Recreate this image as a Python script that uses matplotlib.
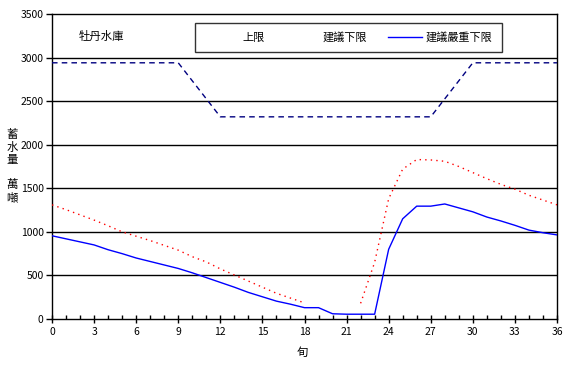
import numpy as np
import matplotlib.pyplot as plt
from matplotlib.lines import Line2D

plt.rcParams['font.family'] = ['Noto Sans CJK TC', 'DejaVu Sans']

# 旬 0..36
xun = np.arange(0, 37)

upper_x = [0, 9, 12, 27, 30, 36]
upper_y = [2940, 2940, 2320, 2320, 2940, 2940]

# 建議下限 (gap between 19 and 21)
lower = [1310, 1255, 1195, 1135, 1070, 1000, 950, 900, 845, 790,
         715, 655, 575, 505, 435, 365, 295, 240, 185, np.nan,
         np.nan, np.nan, 180, 650, 1380, 1720, 1830, 1825, 1810, 1750,
         1680, 1610, 1545, 1490, 1420, 1365, 1310]

# 建議嚴重下限
severe = [955, 920, 885, 850, 795, 750, 700, 660, 620, 580,
          530, 475, 420, 365, 305, 255, 205, 170, 130, 130,
          60, 55, 55, 55, 800, 1150, 1295, 1295, 1320, 1275,
          1230, 1170, 1125, 1075, 1020, 990, 965]

labels = ['上限', '建議下限', '建議嚴重下限']

fig = plt.figure(figsize=(5.67, 3.69), dpi=100)
ax = fig.add_axes([52 / 567, 50 / 369, 505 / 567, 305 / 369])

for yv in range(500, 3500, 500):
    ax.axhline(yv, color='black', lw=1, zorder=1)

ax.plot(upper_x, upper_y, color='#000080', lw=1, ls=(0, (4, 3)), zorder=3)
ax.plot(xun, lower, color='red', lw=1, ls=(0, (1, 3)), zorder=3)
ax.plot(xun, severe, color='blue', lw=1, zorder=4)

ax.set_xlim(0, 36)
ax.set_ylim(0, 3500)
ax.set_xticks(range(0, 37, 3))
ax.set_xticks(range(0, 37), minor=True)
ax.set_yticks(range(0, 3501, 500))
ax.tick_params(axis='x', which='major', direction='inout', length=6, width=1, labelsize=7.5, pad=3)
ax.tick_params(axis='x', which='minor', direction='in', length=3, width=1)
ax.tick_params(axis='y', which='major', direction='out', length=4, width=1, labelsize=7.5, pad=2)
for s in ax.spines.values():
    s.set_linewidth(1)

ax.text(27 / 505, 0.925, '牡丹水庫', transform=ax.transAxes, fontsize=8.2, va='center')
fig.text(12 / 567, 1 - 166 / 369, '蓄\n水\n量\n\n萬\n噸', fontsize=8.2, ha='center', va='center', linespacing=1.25)
fig.text(302 / 567, 1 - 353 / 369, '旬', fontsize=8.2, ha='center', va='center')

handles = [Line2D([], [], color='none'),
           Line2D([], [], color='none'),
           Line2D([], [], color='blue', lw=1)]
leg = ax.legend(handles, labels, ncol=3, loc='upper left',
                bbox_to_anchor=(143 / 505, 1 - 9 / 305), fontsize=8,
                frameon=True, fancybox=False, edgecolor='black',
                handlelength=3.1, handletextpad=0.36, columnspacing=1.8,
                borderpad=0.8, borderaxespad=0)
leg.get_frame().set_linewidth(1)

fig.savefig('out.png', dpi=100)
